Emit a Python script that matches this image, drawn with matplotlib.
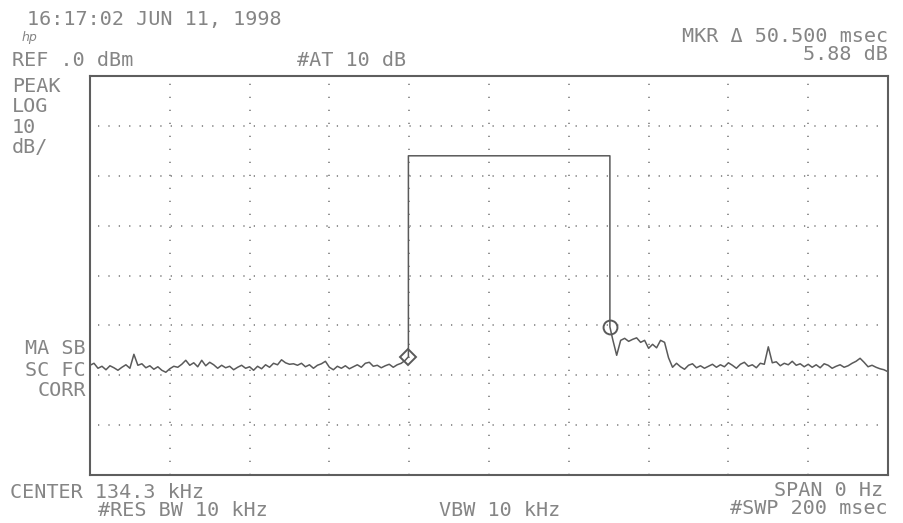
import numpy as np
import matplotlib
matplotlib.use("Agg")
import matplotlib.pyplot as plt

# ---- data (time in ms, level in dBm) ----
sweep_ms = 200
ref_db = 0.0
db_per_div = 10
n_vdiv = 8
n_hdiv = 10

left_noise_db = [
    -58.0, -57.6, -58.6, -58.2, -58.9, -58.1, -58.5, -59.0, -58.4, -57.9,
    -58.6, -55.8, -58.0, -57.7, -58.5, -58.1, -58.8, -58.3, -59.0, -59.4,
    -58.7, -58.2, -58.4, -57.8, -57.0, -58.0, -57.5, -58.3, -57.0, -58.1,
    -57.4, -57.9, -58.6, -58.0, -58.5, -58.2, -58.9, -58.4, -58.0, -58.6,
    -58.3, -59.0, -58.2, -58.7, -57.9, -58.4, -57.6, -57.9, -56.9, -57.5,
    -57.8, -57.7, -58.0, -57.6, -58.3, -57.9, -58.6, -58.0, -57.7, -57.2,
    -58.4, -58.9, -58.2, -58.6, -58.1, -58.7, -58.3, -57.9, -58.4, -57.6,
    -57.4, -58.2, -58.0, -58.5, -58.1, -57.8, -58.4, -57.9, -57.6, -57.0,
]
pulse_on_ms = 79.8
pulse_off_ms = 130.3
pulse_level_db = -16.0
marker1_db = -56.3
marker2_db = -50.3
tail_start_ms = 131
tail_db = [
    -52.8, -56.0, -53.0, -52.6, -53.2, -52.8, -52.5, -53.4, -53.0, -54.6,
    -53.8, -54.5, -53.0, -53.4, -56.5, -58.4,
    -57.6, -58.3, -58.8, -58.0, -57.7, -58.5, -58.1, -58.6, -58.2, -57.8,
    -58.4, -57.9, -58.3, -57.5, -58.0, -58.6, -57.8, -57.4, -58.2, -57.9,
    -58.5, -57.6, -57.8, -54.3, -57.5, -57.3, -58.1, -57.6, -57.9, -57.2,
    -58.0, -57.7, -58.3, -57.8, -58.4, -57.9, -58.5, -57.7, -58.0, -58.6,
    -58.2, -57.9, -58.4, -58.1, -57.6, -57.2, -56.6, -57.4, -58.3, -58.0,
    -58.4, -58.7, -58.9, -59.3,
]

# ---- figure ----
W, H = 904, 523
fig = plt.figure(figsize=(W / 100, H / 100), dpi=100)
fig.patch.set_facecolor("white")
L, R, T, B = 90, 888, 76, 475
ax = fig.add_axes([L / W, 1 - B / H, (R - L) / W, (B - T) / H])
ax.set_xlim(0, sweep_ms)
ax.set_ylim(ref_db - n_vdiv * db_per_div, ref_db)
ax.set_xticks([])
ax.set_yticks([])
frame_c = "#5e5e5e"
for s in ax.spines.values():
    s.set_color(frame_c)
    s.set_linewidth(1.5)

grid_c = "#8a8a8a"
xdiv = sweep_ms / n_hdiv
for i in range(1, n_hdiv):
    ax.axvline(i * xdiv, color=grid_c, lw=1.3, ls=(0, (0.7, 6.5)))
for j in range(1, n_vdiv):
    ax.axhline(ref_db - j * db_per_div, xmin=0.01, xmax=0.99,
               color=grid_c, lw=1.3, ls=(0, (0.7, 5.05)))

t_left = np.arange(len(left_noise_db))
t_tail = tail_start_ms + np.arange(len(tail_db))
times = np.concatenate([t_left, [pulse_on_ms, pulse_on_ms, pulse_off_ms, pulse_off_ms], t_tail])
levels = np.concatenate([left_noise_db,
                         [marker1_db, pulse_level_db, pulse_level_db, marker2_db],
                         tail_db])
trace_c = "#5a5a5a"
ax.plot(times, levels, color=trace_c, lw=1.1)
ax.plot([pulse_on_ms], [marker1_db], marker="D", ms=8, mfc="none", mec=trace_c, mew=1.4)
ax.plot([pulse_off_ms], [marker2_db], marker="o", ms=10, mfc="none", mec=trace_c, mew=1.4)

# ---- annotations ----
txt_c = "#858585"
fs = 14.5
fam = ["DejaVu Sans Mono"]


def put(x, y, s, ha="left", **kw):
    fig.text(x / W, 1 - y / H, s, ha=ha, va="center", color=txt_c,
             fontsize=kw.pop("fontsize", fs), family=kw.pop("family", fam), **kw)


put(27, 20, "16:17:02 JUN 11, 1998")
put(22, 38, "hp", fontsize=9, style="italic", family=["DejaVu Sans"])
put(12, 60, "REF .0 dBm")
put(352, 60, "#AT 10 dB", ha="center")
put(888, 37, "MKR \u0394 50.500 msec", ha="right")
put(888, 55, "5.88 dB", ha="right")
put(12, 86, "PEAK")
put(12, 107, "LOG")
put(12, 127, "10")
put(12, 148, "dB/")
put(86, 349, "MA SB", ha="right")
put(86, 370, "SC FC", ha="right")
put(86, 391, "CORR", ha="right")
put(10, 492, "CENTER 134.3 kHz")
put(183, 510, "#RES BW 10 kHz", ha="center")
put(500, 510, "VBW 10 kHz", ha="center")
put(883, 490, "SPAN 0 Hz", ha="right")
put(888, 509, "#SWP 200 msec", ha="right")

fig.savefig("out.png", dpi=100, facecolor="white")
